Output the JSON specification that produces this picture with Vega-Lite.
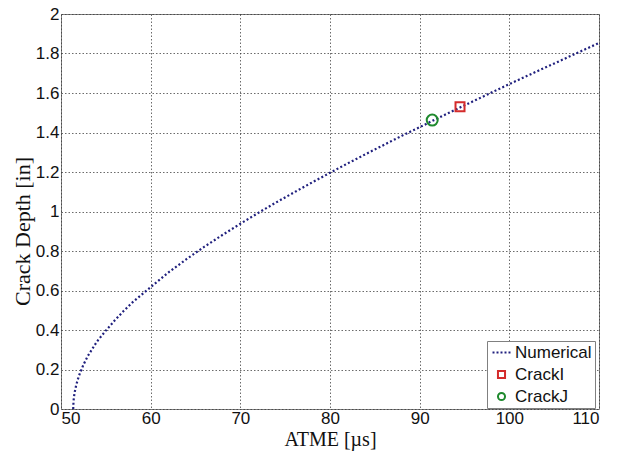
{
  "$schema": "https://vega.github.io/schema/vega-lite/v6.json",
  "width": 538,
  "height": 395,
  "autosize": {"type": "none"},
  "padding": {"left": 61, "top": 14, "right": 20, "bottom": 45},
  "background": "white",
  "config": {
    "view": {"stroke": "#7f7f7f", "strokeWidth": 1},
    "axis": {
      "domain": false,
      "ticks": false,
      "tickSize": 0,
      "grid": true,
      "gridColor": "#3a3a3a",
      "gridOpacity": 0.75,
      "gridDash": [1.5, 2],
      "gridWidth": 1,
      "labelFont": "Liberation Sans",
      "labelFontSize": 17,
      "labelColor": "#111111",
      "titleFont": "Liberation Serif",
      "titleFontWeight": "normal",
      "titleColor": "#111111"
    },
    "legend": {
      "labelFont": "Liberation Sans",
      "labelFontSize": 17,
      "labelColor": "#111111"
    }
  },
  "data": {
    "values": [
      {"t": 51.36, "depth": 0, "series": "Numerical"},
      {"t": 51.4, "depth": 0.042, "series": "Numerical"},
      {"t": 51.5, "depth": 0.079, "series": "Numerical"},
      {"t": 51.7, "depth": 0.122, "series": "Numerical"},
      {"t": 52.0, "depth": 0.168, "series": "Numerical"},
      {"t": 52.5, "depth": 0.224, "series": "Numerical"},
      {"t": 53, "depth": 0.269, "series": "Numerical"},
      {"t": 54, "depth": 0.341, "series": "Numerical"},
      {"t": 55, "depth": 0.397, "series": "Numerical"},
      {"t": 56, "depth": 0.449, "series": "Numerical"},
      {"t": 57, "depth": 0.497, "series": "Numerical"},
      {"t": 58, "depth": 0.541, "series": "Numerical"},
      {"t": 60, "depth": 0.617, "series": "Numerical"},
      {"t": 62, "depth": 0.692, "series": "Numerical"},
      {"t": 64, "depth": 0.759, "series": "Numerical"},
      {"t": 66, "depth": 0.822, "series": "Numerical"},
      {"t": 68, "depth": 0.881, "series": "Numerical"},
      {"t": 70, "depth": 0.938, "series": "Numerical"},
      {"t": 72, "depth": 0.993, "series": "Numerical"},
      {"t": 74, "depth": 1.046, "series": "Numerical"},
      {"t": 76, "depth": 1.097, "series": "Numerical"},
      {"t": 78, "depth": 1.147, "series": "Numerical"},
      {"t": 80, "depth": 1.196, "series": "Numerical"},
      {"t": 82, "depth": 1.244, "series": "Numerical"},
      {"t": 84, "depth": 1.291, "series": "Numerical"},
      {"t": 86, "depth": 1.337, "series": "Numerical"},
      {"t": 88, "depth": 1.383, "series": "Numerical"},
      {"t": 90, "depth": 1.427, "series": "Numerical"},
      {"t": 92, "depth": 1.472, "series": "Numerical"},
      {"t": 94, "depth": 1.516, "series": "Numerical"},
      {"t": 96, "depth": 1.559, "series": "Numerical"},
      {"t": 98, "depth": 1.602, "series": "Numerical"},
      {"t": 100, "depth": 1.645, "series": "Numerical"},
      {"t": 102, "depth": 1.687, "series": "Numerical"},
      {"t": 104, "depth": 1.729, "series": "Numerical"},
      {"t": 106, "depth": 1.770, "series": "Numerical"},
      {"t": 108, "depth": 1.812, "series": "Numerical"},
      {"t": 110, "depth": 1.853, "series": "Numerical"},
      {"t": 94.5, "depth": 1.53, "series": "CrackI"},
      {"t": 91.4, "depth": 1.463, "series": "CrackJ"}
    ]
  },
  "encoding": {
    "x": {
      "field": "t",
      "type": "quantitative",
      "scale": {"domain": [50, 110], "nice": false, "zero": false},
      "axis": {
        "title": "ATME [µs]",
        "titleFontSize": 20,
        "titleBaseline": "alphabetic",
        "titleY": 36,
        "labelPadding": 1,
        "values": [50, 60, 70, 80, 90, 100, 110],
        "format": "d"
      }
    },
    "y": {
      "field": "depth",
      "type": "quantitative",
      "scale": {"domain": [0, 2], "nice": false},
      "axis": {
        "title": "Crack Depth [in]",
        "titleFontSize": 22,
        "titleBaseline": "middle",
        "titleX": -39,
        "titleY": 217,
        "labelPadding": 2,
        "values": [0, 0.2, 0.4, 0.6, 0.8, 1, 1.2, 1.4, 1.6, 1.8, 2],
        "format": "~g"
      }
    }
  },
  "layer": [
    {
      "transform": [{"filter": "datum.series === 'Numerical'"}],
      "mark": {
        "type": "line",
        "stroke": "#20207e",
        "strokeWidth": 2.2,
        "strokeDash": [2, 2.3],
        "strokeCap": "butt"
      },
      "encoding": {"order": {"field": "t", "type": "quantitative"}}
    },
    {
      "transform": [{"filter": "datum.series === 'CrackI'"}],
      "mark": {"type": "point", "filled": false, "strokeWidth": 2, "size": 81, "opacity": 1},
      "encoding": {
        "color": {
          "field": "series",
          "type": "nominal",
          "scale": {"domain": ["Numerical", "CrackI", "CrackJ"], "range": ["#20207e", "#d42b2b", "#1f8a2e"]},
          "legend": {
            "title": null,
            "orient": "none",
            "legendX": 426,
            "legendY": 327,
            "padding": 3,
            "rowPadding": 4,
            "symbolSize": 50,
            "symbolStrokeWidth": 2,
            "symbolOffset": 3,
            "labelOffset": 5,
            "labelExpr": "datum.label + '\u00a0\u00a0'",
            "fillColor": "white",
            "strokeColor": "#808080",
            "cornerRadius": 0
          }
        },
        "shape": {
          "field": "series",
          "type": "nominal",
          "scale": {
            "domain": ["Numerical", "CrackI", "CrackJ"],
            "range": ["M-2.54,0H-1.98M-1.41,0H-0.85M-0.28,0H0.28M0.85,0H1.41M1.98,0H2.54", "square", "circle"]
          }
        }
      }
    },
    {
      "transform": [{"filter": "datum.series === 'CrackJ'"}],
      "mark": {"type": "point", "filled": false, "strokeWidth": 2, "size": 121, "opacity": 1},
      "encoding": {
        "color": {"field": "series", "type": "nominal"},
        "shape": {"field": "series", "type": "nominal"}
      }
    }
  ]
}
